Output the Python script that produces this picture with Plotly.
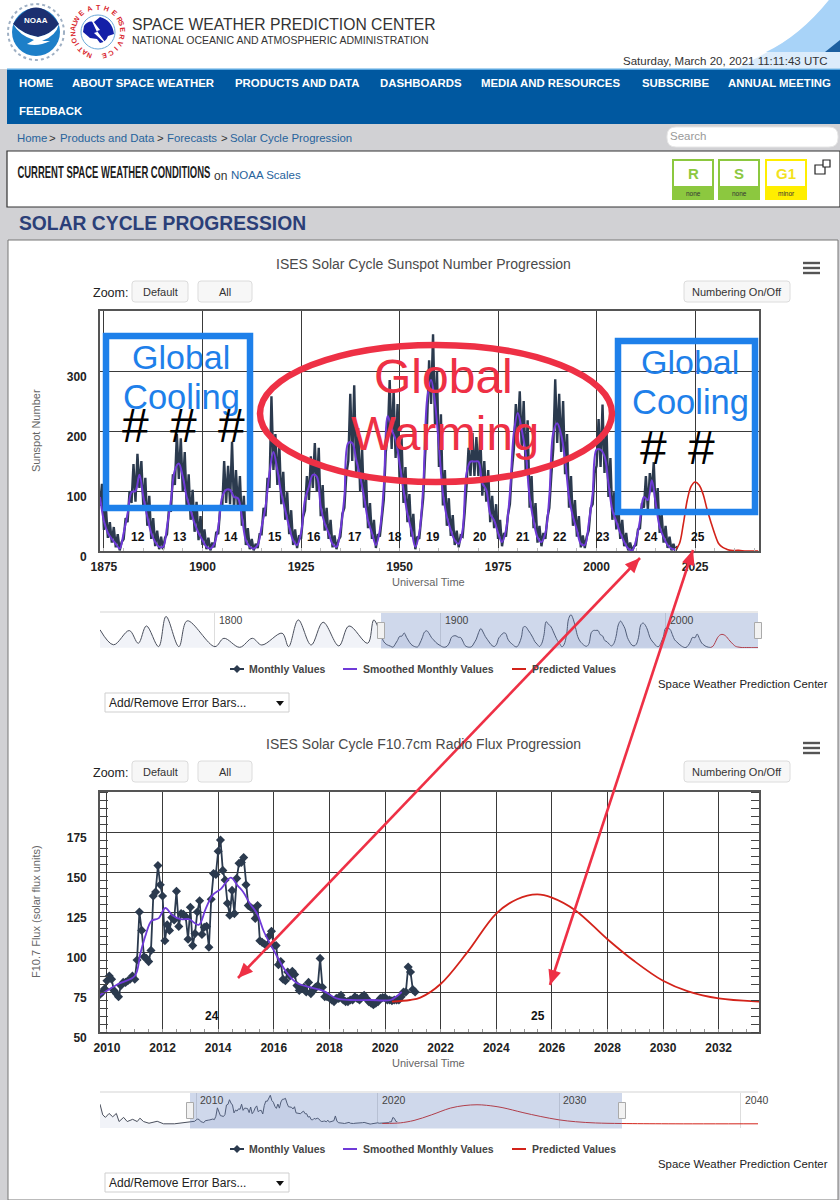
import math

import numpy as np
import plotly.graph_objects as go

# ---- sunspot number data ----
ssn_smoothed = [
    90,
    50, 30, 20, 12, 4,
    30, 62, 98, 100, 127, 90, 57, 30, 15, 7,
    7, 40, 85, 135, 146, 124, 90, 68, 46, 30,
    18, 7, 4, 12, 40, 90, 102, 102, 90, 88,
    57, 18, 7, 4, 10, 40, 74, 130, 165, 135,
    96, 68, 40, 18, 10, 30, 85, 107, 127, 124,
    74, 46, 30, 12, 7, 35, 90, 180, 180, 152,
    124, 90, 51, 30, 10, 35, 107, 225, 202, 186,
    146, 102, 62, 35, 7, 30, 107, 253, 285, 247,
    174, 96, 57, 35, 18, 12, 35, 130, 149, 149,
    149, 113, 102, 62, 51, 30, 15, 35, 96, 197,
    230, 202, 163, 90, 51, 23, 15, 30, 90, 197,
    213, 194, 152, 90, 57, 35, 12, 10, 46, 96,
    169, 169, 158, 113, 68, 49, 30, 15, 4, 1,
    18, 51, 90, 85, 118, 79, 40, 23, 10, 4, 2,
]
# low and high of the monthly band, two values for each year from 1874
ssn_monthly = [
    75, 112,
    35, 72, 22, 48, 14, 40, 6, 28, 1, 15,
    20, 55, 48, 100, 80, 145, 82, 162, 105, 150, 72, 122, 42, 92, 20, 55, 8, 34, 3, 24,
    3, 22, 28, 70, 68, 128, 110, 195, 120, 188, 100, 165, 72, 128, 52, 102, 32, 82, 18, 58,
    10, 36, 3, 22, 1, 14, 6, 32, 28, 72, 70, 150, 80, 142, 78, 182, 70, 135, 68, 125,
    42, 92, 10, 38, 3, 20, 1, 12, 5, 28, 28, 72, 58, 122, 105, 258, 135, 195, 110, 178,
    78, 132, 52, 98, 28, 68, 10, 36, 5, 26, 20, 56, 68, 125, 85, 158, 105, 180, 100, 172,
    58, 110, 34, 72, 20, 52, 6, 26, 3, 18, 24, 62, 72, 128, 150, 262, 150, 276, 125, 205,
    100, 170, 72, 125, 38, 80, 20, 52, 5, 28, 24, 60, 85, 165, 190, 285, 170, 268, 155, 245,
    120, 190, 80, 140, 48, 95, 24, 62, 3, 24, 20, 55, 88, 160, 215, 318, 245, 361, 210, 300,
    140, 228, 76, 135, 42, 88, 25, 60, 10, 34, 6, 26, 24, 62, 108, 172, 125, 197, 125, 190,
    125, 192, 92, 150, 82, 135, 48, 92, 38, 78, 20, 52, 8, 30, 24, 60, 78, 135, 170, 245,
    195, 266, 172, 250, 135, 218, 72, 125, 38, 80, 14, 42, 8, 30, 20, 55, 72, 125, 170, 286,
    180, 262, 165, 250, 128, 195, 72, 125, 42, 85, 24, 58, 6, 26, 5, 24, 34, 72, 78, 130,
    142, 220, 140, 244, 130, 205, 90, 155, 52, 98, 36, 75, 20, 52, 8, 30, 1, 14, 0, 8,
    10, 36, 38, 80, 72, 125, 68, 130, 98, 148, 62, 105, 30, 62, 14, 42, 5, 24, 1, 12, 0, 8,
]
ssn_pred_years = [2020, 2021, 2022, 2023, 2024, 2025, 2026, 2027, 2028, 2029, 2030, 2031, 2032, 2033, 2034, 2036, 2038, 2041]
ssn_pred = [2, 12, 45, 85, 108, 115, 110, 95, 70, 48, 28, 12, 6, 3, 1, 1, 0, 0]
# cycles before 1874, only shown in the small navigator
ssn_early_years = [1749, 1755, 1762, 1766, 1769.6, 1775, 1778.3, 1784, 1787.7, 1800, 1804, 1811, 1816.6, 1820.8, 1829.8, 1832.7, 1837, 1842.7, 1848, 1855, 1859.5, 1867.8, 1870.5]
ssn_early = [155, 25, 148, 38, 188, 9, 270, 9, 232, 9, 81, 3, 81, 23, 125, 9, 240, 23, 220, 15, 188, 38, 240]

# ---- F10.7 data ----
flux_monthly = [
    73.5, 75, 77,
    82, 85, 83, 76, 74, 72, 79, 81, 81, 82, 83, 85,
    83, 95, 125, 113.5, 97, 96, 94, 101, 135, 137.5, 154, 142,
    135, 107, 117, 113.5, 121.5, 120, 138, 116, 124, 123.5, 122, 108,
    128, 104, 111.5, 125, 132, 111, 115.5, 116, 103, 133, 149, 148.5,
    163, 170, 151, 145, 130.5, 123, 138.5, 124, 146, 155.5, 156, 159,
    142, 129, 128, 127, 121, 129, 107, 106, 105, 104, 110, 113,
    104, 104, 92, 94, 83, 82, 87.5, 85, 88, 86, 79, 76,
    77, 78, 75, 81, 74, 76, 78, 79, 96, 78, 72, 72,
    71.5, 70, 69, 71, 71, 73, 70, 69, 69, 70, 70, 72,
    71, 70, 72, 73, 71, 69, 68, 67, 68, 69, 71, 71.5,
    71.5, 70, 70, 69.5, 70, 70, 70, 72, 75, 75, 90.6, 87.5,
    76.5, 75,
]
flux_smooth_years = [2009.75, 2010.4, 2011, 2011.2, 2011.4, 2011.6, 2011.85, 2012.1, 2012.35, 2012.65, 2012.95, 2013.3, 2013.55, 2013.8, 2014.1, 2014.45, 2014.7, 2014.9, 2015.15, 2015.4, 2015.65, 2016, 2016.45, 2016.8, 2017.3, 2017.8, 2018.25, 2018.75, 2019.45, 2020.2, 2020.4, 2020.6]
flux_smooth = [73, 80, 85, 99, 111, 119.5, 121, 127.5, 123, 120.5, 120.5, 117, 127, 135.5, 139.5, 146.5, 141.5, 137.5, 130, 124, 112.5, 101, 87.5, 81, 78, 75.5, 71, 70, 70, 70, 72, 75]
flux_pred_years = [2020.25, 2020.9, 2021.27, 2022, 2022.95, 2024, 2024.75, 2025.47, 2026, 2026.85, 2028, 2028.95, 2030, 2030.9, 2032, 2033.45, 2036, 2041]
flux_pred = [69, 70, 71.5, 80, 99.6, 124, 133, 136, 134, 126, 108, 94.5, 82, 75.4, 71, 69, 68, 68]
flux_early_years = [2004.7, 2004.85, 2005, 2005.2, 2005.4, 2005.6, 2005.75, 2006, 2006.2, 2006.5, 2006.75, 2006.9, 2007.1, 2007.4, 2007.85, 2008.2, 2008.8]
flux_early = [138, 100, 91, 105, 93, 105, 76, 91, 76, 84, 76, 88, 76, 70, 77, 68, 68]

# ---- axis ticks and labels ----
ssn_ticks = [1875, 1900, 1925, 1950, 1975, 2000, 2025]
ssn_yticks = [0, 100, 200, 300]
flux_ticks = [2010, 2012, 2014, 2016, 2018, 2020, 2022, 2024, 2026, 2028, 2030, 2032]
flux_yticks = [50, 75, 100, 125, 150, 175]
nav_items = [("HOME", 18, 83), ("ABOUT SPACE WEATHER", 71, 83), ("PRODUCTS AND DATA", 234, 83), ("DASHBOARDS", 379, 83),
             ("MEDIA AND RESOURCES", 480, 83), ("SUBSCRIBE", 641, 83), ("ANNUAL MEETING", 727, 83), ("FEEDBACK", 18, 111)]
ssn_cycles = [("12", 138), ("13", 180), ("14", 231), ("15", 275), ("16", 314), ("17", 355), ("18", 395),
              ("19", 433), ("20", 480), ("21", 523), ("22", 560), ("23", 603), ("24", 651), ("25", 698)]

FONT = "Liberation Sans, Arial, sans-serif"
NAVY = "#2b3a4e"
PURPLE = "#6f3ad8"
RED = "#d3231a"
BLUE_MARK = "#1e80ea"
RED_MARK = "#ee3045"
GRID = "#3a3a3a"

W, H = 840, 1200
shapes = []
notes = []


def px(x):
    return x / W


def py(y):
    return 1 - y / H


def rect(x0, y0, x1, y1, fill=None, line=None, lw=1, layer="below"):
    shapes.append(dict(type="rect", xref="paper", yref="paper", x0=px(x0), x1=px(x1), y0=py(y0), y1=py(y1),
                       fillcolor=fill, line=dict(color=line, width=lw if line else 0), layer=layer))


def oval(x0, y0, x1, y1, fill=None, line=None, lw=1, layer="below", dash=None):
    shapes.append(dict(type="circle", xref="paper", yref="paper", x0=px(x0), x1=px(x1), y0=py(y0), y1=py(y1),
                       fillcolor=fill, line=dict(color=line, width=lw if line else 0, dash=dash), layer=layer))


def seg(x0, y0, x1, y1, color, lw=1, layer="below"):
    shapes.append(dict(type="line", xref="paper", yref="paper", x0=px(x0), x1=px(x1), y0=py(y0), y1=py(y1),
                       line=dict(color=color, width=lw), layer=layer))


def path(spec, fill=None, line=None, lw=1, layer="below"):
    # spec is an svg path in page pixels, converted to paper fractions here
    out, is_x = [], True
    for tok in spec.split():
        if tok.isalpha():
            out.append(tok)
        else:
            out.append(f"{px(float(tok)):.5f}" if is_x else f"{py(float(tok)):.5f}")
            is_x = not is_x
    shapes.append(dict(type="path", xref="paper", yref="paper", path=" ".join(out),
                       fillcolor=fill, line=dict(color=line, width=lw if line else 0), layer=layer))


def rrect(x0, y0, x1, y1, r, fill=None, line=None, lw=1):
    path(f"M {x0+r} {y0} L {x1-r} {y0} Q {x1} {y0} {x1} {y0+r} L {x1} {y1-r} Q {x1} {y1} {x1-r} {y1} "
         f"L {x0+r} {y1} Q {x0} {y1} {x0} {y1-r} L {x0} {y0+r} Q {x0} {y0} {x0+r} {y0} Z", fill, line, lw)


def note(x, y, text, size=11, color="#222", anchor="left", bold=False, family=FONT, angle=0):
    notes.append(dict(xref="paper", yref="paper", x=px(x), y=py(y), text=f"<b>{text}</b>" if bold else text,
                      showarrow=False, xanchor=anchor, yanchor="middle", textangle=angle,
                      font=dict(size=size, color=color, family=family), borderpad=0))


def double_arrow(x0, y0, x1, y1):
    seg(x0, y0, x1, y1, RED_MARK, 2.6, "above")
    ang = math.atan2(y1 - y0, x1 - x0)
    for (tx, ty, a) in [(x0, y0, ang), (x1, y1, ang + math.pi)]:
        bx, by = tx + 15 * math.cos(a), ty + 15 * math.sin(a)
        nx, ny = -math.sin(a) * 6.5, math.cos(a) * 6.5
        path(f"M {tx} {ty} L {bx+nx} {by+ny} L {bx-nx} {by-ny} Z", RED_MARK, None, 0, "above")


def chart_furniture(top, title, ytitle, ytitle_y, legend_y, credit_y, drop_y, xtitle_y):
    note(423, top, title, 14, "#4a4a4a", "center")
    for dy in (-5, 0, 5):
        seg(803, top + 4 + dy, 820, top + 4 + dy, "#555", 2.4)
    note(92, top + 29, "Zoom:", 12.5, "#222")
    for (x0, x1, label) in [(132, 188, "Default"), (198, 252, "All"), (684, 790, "Numbering On/Off")]:
        rrect(x0, top + 17, x1, top + 38, 3, "#f7f7f7", "#dcdcdc", 1)
        note((x0 + x1) / 2, top + 27.5, label, 11, "#333", "center")
    note(36, ytitle_y, ytitle, 11, "#666", "center", angle=-90)
    note(429, xtitle_y, "Universal Time", 11, "#666", "center")
    # legend row
    seg(230, legend_y, 244, legend_y, NAVY, 2)
    path(f"M 237 {legend_y-4} L 241 {legend_y} L 237 {legend_y+4} L 233 {legend_y} Z", NAVY)
    note(248, legend_y, "Monthly Values", 10.5, "#444", bold=True)
    seg(343, legend_y, 357, legend_y, PURPLE, 2)
    note(362, legend_y, "Smoothed Monthly Values", 10.5, "#444", bold=True)
    seg(512, legend_y, 526, legend_y, RED, 2)
    note(531, legend_y, "Predicted Values", 10.5, "#444", bold=True)
    note(829, credit_y, "Space Weather Prediction Center", 11.4, "#222", "right")
    rect(105, drop_y, 289, drop_y + 19, "#fff", "#cfcfcf", 1)
    note(108, drop_y + 10, "Add/Remove Error Bars...", 12, "#222")
    path(f"M 276 {drop_y+8} L 284 {drop_y+8} L 280 {drop_y+13} Z", "#111")


def navigator(x0, x1, y0, y1, sel0, sel1):
    rect(sel0, y0, sel1, y1 + 0.5, "rgba(95,125,190,0.30)", None, 0, "above")
    seg(x0, y0 - 1, x1, y0 - 1, "#e2e2e2", 1.5)
    for hx in (sel0, sel1):
        rect(hx - 3.5, (y0 + y1) / 2 - 8, hx + 3.5, (y0 + y1) / 2 + 8, "#f2f2f2", "#aaa", 1, "above")


# ---- page: header, nav, conditions box ----
rect(0, 0, 840, 1200, "#d1d1d4")
rect(0, 0, 840, 69, "#ffffff")
path("M 829 0 Q 800 36 762 55 L 738 68 L 840 68 L 840 0 Z", "#dcecfb")
path("M 829 0 Q 800 36 766 52 L 840 52 L 840 0 Z", "#a8d3f8")
path("M 840 40 L 825 52 L 840 52 Z", "#1c5fa0")
rect(7, 69, 840, 124, "#0058a0")
rect(7, 68.5, 840, 70, "#5ba7df")
rect(7, 151, 840, 207, "#ffffff", "#333", 1.2)
rect(8, 240, 838, 1200, "#ffffff", "#777", 1)

# noaa logo
oval(8, 4, 64, 60, "#ffffff", "#9fb0c4", 2, dash="dot")
oval(12, 8, 60, 56, "#1d7fc8")
path("M 13 24 Q 24 35 38 37 Q 50 35 59 24 Q 36 -9 13 24 Z", "#1b2f70")
path("M 13 24 Q 24 35 38 37 Q 50 35 59 24 Q 56 36 42 41 L 50 41 Q 38 47 27 44 L 34 40 Q 20 36 13 24 Z", "#ffffff")
note(36, 20, "NOAA", 8, "#ffffff", "center", bold=True)

# nws logo: lettering set round a ring
for word, start, stop in [("NATIONAL", 250, 160), ("WEATHER", 150, 30), ("SERVICE", 20, -75)]:
    for i, ch in enumerate(word):
        deg = start + (stop - start) * i / (len(word) - 1)
        rad = math.radians(deg)
        note(98 + 25 * math.cos(rad), 32 - 25 * math.sin(rad), ch, 7, "#d8232a", "center", bold=True, angle=90 - deg)
oval(81, 15, 115, 49, "#ffffff", "#6aa9d8", 1)
path("M 84 26 Q 88 20 94 22 L 100 17 Q 112 20 114 34 L 108 36 Q 106 42 100 43 L 97 39 L 90 38 L 83 32 Z", "#1420a8")
path("M 90 17 L 100 30 L 97 31 L 108 46 L 94 33 L 97 32 Z", "#ffffff")

note(131, 24, "SPACE WEATHER PREDICTION CENTER", 15.7, "#333")
note(131, 40, "NATIONAL OCEANIC AND ATMOSPHERIC ADMINISTRATION", 10.5, "#333")
note(829, 61, "Saturday, March 20, 2021 11:11:43 UTC", 11.5, "#333", "right")
for label, x, y in nav_items:
    note(x, y, label, 11.4, "#ffffff", bold=True)

crumbs = [("Home", 16, "#27639c"), (">", 48, "#333"), ("Products and Data", 59, "#27639c"), (">", 156, "#333"),
          ("Forecasts", 166, "#27639c"), (">", 220, "#333"), ("Solar Cycle Progression", 229, "#27639c")]
for label, x, color in crumbs:
    note(x, 138, label, 11.4, color)
rrect(667, 127, 838, 147, 9, "#ffffff", "#e6e6e6", 1)
note(669, 136, "Search", 11.5, "#999")

note(113.5, 172, "CURRENT SPACE WEATHER CONDITIONS", 16.5, "#1c1c1c", "center", bold=True)
note(213, 176, "on", 12, "#333")
note(230, 175, "NOAA Scales", 11.5, "#27639c")
for x0, label, small, color, txt in [(673, "R", "none", "#8cc83f", "#8cc83f"), (719, "S", "none", "#8cc83f", "#8cc83f"), (766, "G1", "minor", "#ffee00", "#f3e21d")]:
    rect(x0, 160, x0 + 40, 199, "#ffffff", color, 2)
    rect(x0, 186, x0 + 40, 199, color)
    note(x0 + 20, 173, label, 15, txt, "center", bold=True)
    note(x0 + 20, 193, small, 6.5, "#333", "center")
rect(815, 165, 825, 174, "#fff", "#222", 1.2)
rect(823, 160, 830, 167, "#fff", "#222", 1.2)
note(18, 224, "SOLAR CYCLE PROGRESSION", 19.3, "#2b3f78", bold=True)

# ---- furniture round the two charts ----
chart_furniture(264, "ISES Solar Cycle Sunspot Number Progression", "Sunspot Number", 431, 669, 684, 693, 582)
chart_furniture(744, "ISES Solar Cycle F10.7cm Radio Flux Progression", "F10.7 Flux (solar flux units)", 912, 1149, 1164, 1173, 1063)
navigator(100, 758, 613, 648, 381, 758)
navigator(100, 758, 1093, 1128, 190, 622)

for label, x in ssn_cycles:
    note(x, 537, label, 12, "#111", "center", bold=True)
note(212, 1016, "24", 12, "#111", "center", bold=True)
note(538, 1016, "25", 12, "#111", "center", bold=True)

for label, x in [("1800", 218), ("1900", 444), ("2000", 669)]:
    note(x, 620, label, 10.5, "#444")
for label, x in [("2010", 199), ("2020", 381), ("2030", 562), ("2040", 744)]:
    note(x, 1100, label, 10.5, "#444")

# ---- hand drawn mark-up on top of the page ----
rect(106, 336, 250, 508, None, BLUE_MARK, 6.5, "above")
rect(618, 341, 755, 512, None, BLUE_MARK, 6.5, "above")
oval(260, 345, 612, 482, None, RED_MARK, 6.5, "above")
double_arrow(640, 558, 238, 978)
double_arrow(693, 550, 550, 985)
note(181, 357, "Global", 34, BLUE_MARK, "center")
note(181, 397, "Cooling", 34.5, BLUE_MARK, "center")
note(690, 362, "Global", 34, BLUE_MARK, "center")
note(690, 402, "Cooling", 34.5, BLUE_MARK, "center")
note(443, 376, "Global", 48, RED_MARK, "center")
note(445, 433, "Warming", 47.5, RED_MARK, "center")
for x, y in [(135, 425), (183, 425), (231, 425), (653, 447), (701, 447)]:
    note(x, y, "#", 48, "#000", "center")

# ---- traces ----
ssn_years = np.arange(1874, 1874 + len(ssn_smoothed))
ssn_month_x = np.arange(1874, 1874 + len(ssn_monthly) / 2, 0.5)
flux_x = 2009.75 + np.arange(len(flux_monthly)) / 12

fig = go.Figure()
# sunspot chart
fig.add_trace(go.Scatter(x=ssn_month_x, y=ssn_monthly, name="Monthly Values", mode="lines",
                         line=dict(color=NAVY, width=2.4), xaxis="x", yaxis="y"))
fig.add_trace(go.Scatter(x=ssn_years, y=ssn_smoothed, name="Smoothed Monthly Values", mode="lines",
                         line=dict(color=PURPLE, width=2, shape="spline"), xaxis="x", yaxis="y"))
fig.add_trace(go.Scatter(x=ssn_pred_years, y=ssn_pred, name="Predicted Values", mode="lines",
                         line=dict(color=RED, width=1.6, shape="spline"), xaxis="x", yaxis="y"))
# sunspot navigator
fig.add_trace(go.Scatter(x=ssn_early_years + list(ssn_years), y=ssn_early + ssn_smoothed, mode="lines",
                         line=dict(color="#4a4f5c", width=1, shape="spline"), fill="tozeroy", fillcolor="#f1f3f8",
                         xaxis="x2", yaxis="y2"))
fig.add_trace(go.Scatter(x=ssn_pred_years, y=ssn_pred, mode="lines",
                         line=dict(color=RED, width=1, shape="spline"), xaxis="x2", yaxis="y2"))
# flux chart
fig.add_trace(go.Scatter(x=flux_x, y=flux_monthly, name="Monthly Values", mode="lines+markers",
                         line=dict(color=NAVY, width=1.8), marker=dict(symbol="diamond", size=7, color=NAVY),
                         xaxis="x3", yaxis="y3"))
fig.add_trace(go.Scatter(x=flux_smooth_years, y=flux_smooth, name="Smoothed Monthly Values", mode="lines",
                         line=dict(color=PURPLE, width=1.8, shape="spline"), xaxis="x3", yaxis="y3"))
fig.add_trace(go.Scatter(x=flux_pred_years, y=flux_pred, name="Predicted Values", mode="lines",
                         line=dict(color=RED, width=1.8, shape="spline"), xaxis="x3", yaxis="y3"))
# flux navigator
fig.add_trace(go.Scatter(x=flux_early_years + list(flux_x), y=flux_early + flux_monthly, mode="lines",
                         line=dict(color="#4a4f5c", width=1), fill="tozeroy", fillcolor="#f1f3f8",
                         xaxis="x4", yaxis="y4"))
fig.add_trace(go.Scatter(x=flux_pred_years, y=flux_pred, mode="lines",
                         line=dict(color=RED, width=1, shape="spline"), xaxis="x4", yaxis="y4"))

tick_font = dict(size=12, color="#222", family=FONT, weight="bold")
main_axis = dict(showgrid=True, gridcolor=GRID, gridwidth=1.4, zeroline=False, showline=True, linecolor="#555",
                 linewidth=1.6, mirror=True, ticks="", tickfont=tick_font, fixedrange=True)
nav_x = dict(showgrid=True, gridcolor="#dddddd", gridwidth=1, zeroline=False, showline=False, showticklabels=False, fixedrange=True)
nav_y = dict(visible=False, fixedrange=True)

fig.update_layout(
    width=W, height=H, autosize=False,
    margin=dict(l=0, r=0, t=0, b=0, autoexpand=False),
    paper_bgcolor="#ffffff", plot_bgcolor="rgba(0,0,0,0)",
    showlegend=False, hovermode="closest",
    font=dict(family=FONT),
    shapes=shapes, annotations=notes,
    xaxis=dict(main_axis, domain=[px(100), px(759)], range=[1874, 2041.2], anchor="y", tickvals=ssn_ticks,
               ticklabelstandoff=4,
               minor=dict(dtick=5, tick0=1875, ticks="inside", ticklen=3, tickcolor="#bbb", showgrid=False)),
    yaxis=dict(main_axis, domain=[py(551), py(311)], range=[0, 400], anchor="x", tickvals=ssn_yticks,
               ticklabelshift=6, ticklabelstandoff=9),
    xaxis2=dict(nav_x, domain=[px(100), px(758)], range=[1749, 2041], anchor="y2", tickvals=[1800, 1900, 2000]),
    yaxis2=dict(nav_y, domain=[py(648), py(613)], range=[-3, 300], anchor="x2"),
    xaxis3=dict(main_axis, domain=[px(100), px(759)], range=[2009.75, 2033.45], anchor="y3", tickvals=flux_ticks,
                ticklabelstandoff=4,
                minor=dict(dtick=0.5, tick0=2010, ticks="inside", ticklen=3, tickcolor="#999", showgrid=False)),
    yaxis3=dict(main_axis, domain=[py(1032), py(792)], range=[50, 200], anchor="x3", tickvals=flux_yticks,
                ticklabelshift=6, ticklabelstandoff=9, mirror="allticks",
                minor=dict(dtick=5, tick0=50, ticks="inside", ticklen=8, tickcolor="#444", showgrid=False)),
    xaxis4=dict(nav_x, domain=[px(100), px(758)], range=[2004.7, 2040.95], anchor="y4", tickvals=[2010, 2020, 2030, 2040]),
    yaxis4=dict(nav_y, domain=[py(1128), py(1093)], range=[53, 178], anchor="x4"),
)

# the site's heading font is condensed and none is installed, so squeeze the text
squeeze = """document.body.style.margin='0';
document.querySelectorAll('.annotation-text').forEach(function(t){
  if(t.textContent.indexOf('CURRENT')===0){t.setAttribute('textLength','193');t.setAttribute('lengthAdjust','spacingAndGlyphs');}
});"""
fig.write_html("out.html", config=dict(displayModeBar=False), post_script=squeeze)
